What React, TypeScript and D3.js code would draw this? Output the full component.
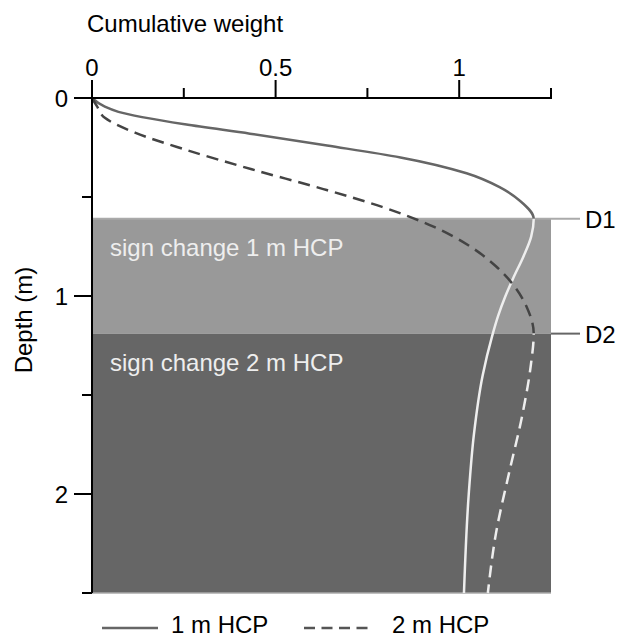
import React from 'react';
import * as d3 from 'd3';

// depth (m) and cumulative weight
const depth1m = [0, 0.044, 0.07, 0.133, 0.18, 0.24, 0.3, 0.38, 0.45, 0.52, 0.61, 0.7, 0.8, 0.91, 1.0, 1.1, 1.2, 1.4, 1.7, 2.0, 2.5];
const weight1m = [0, 0.035, 0.072, 0.253, 0.43, 0.64, 0.84, 1.02, 1.11, 1.166, 1.203, 1.196, 1.175, 1.147, 1.126, 1.106, 1.09, 1.064, 1.04, 1.026, 1.013];

const depth2m = [0, 0.04, 0.1, 0.175, 0.26, 0.36, 0.46, 0.55, 0.65, 0.75, 0.85, 0.95, 1.06, 1.19, 1.35, 1.6, 1.9, 2.2, 2.5];
const weight2m = [0, 0.013, 0.035, 0.117, 0.253, 0.435, 0.63, 0.79, 0.93, 1.03, 1.1, 1.15, 1.185, 1.203, 1.195, 1.172, 1.135, 1.1, 1.078];

const signChange = [0.61, 1.19];
const signLabels = ['D1', 'D2'];
const zoneLabels = ['sign change 1 m HCP', 'sign change 2 m HCP'];
const seriesLabels = ['1 m HCP', '2 m HCP'];

const xMajorTicks = [0, 0.5, 1];
const xMinorTicks = [0.25, 0.75, 1.25];
const yMajorTicks = [0, 1, 2];
const yMinorTicks = [0.5, 1.5, 2.5];

const W = 620;
const H = 637;
const font = '"Liberation Sans", Arial, sans-serif';

export default function App() {
  const x = d3.scaleLinear().domain([0, 1.25]).range([92, 551]);
  const y = d3.scaleLinear().domain([0, 2.5]).range([98, 593]);

  const curve = (ds: number[], ws: number[]) =>
    d3.line<[number, number]>()
      .x(d => x(d[1]))
      .y(d => y(d[0]))
      .curve(d3.curveMonotoneY)(ds.map((d, i) => [d, ws[i]]))!;

  const path1 = curve(depth1m, weight1m);
  const path2 = curve(depth2m, weight2m);

  const yD1 = y(signChange[0]);
  const yD2 = y(signChange[1]);
  const x0 = x(0);
  const x1 = x(1.25);
  const yEnd = y(2.5);

  return (
    <svg width={W} height={H} style={{ position: 'absolute', left: 0, top: 0, background: '#fff' }}
      fontFamily={font}>
      <defs>
        <clipPath id="above1"><rect x={0} y={0} width={W} height={yD1} /></clipPath>
        <clipPath id="below1"><rect x={0} y={yD1} width={W} height={H - yD1} /></clipPath>
        <clipPath id="above2"><rect x={0} y={0} width={W} height={yD2} /></clipPath>
        <clipPath id="below2"><rect x={0} y={yD2} width={W} height={H - yD2} /></clipPath>
      </defs>

      {/* sign change zones */}
      <rect x={x0} y={yD1} width={x1 - x0} height={yD2 - yD1} fill="#999" />
      <rect x={x0} y={yD2} width={x1 - x0} height={yEnd - yD2} fill="#666" />
      <line x1={x0} x2={580} y1={yD1} y2={yD1} stroke="#aaa" strokeWidth={2} />
      <line x1={x1} x2={580} y1={yD2} y2={yD2} stroke="#666" strokeWidth={2} />
      <line x1={x0} x2={x1} y1={yEnd} y2={yEnd} stroke="#aaa" strokeWidth={1.5} />
      {signLabels.map((s, i) => (
        <text key={s} x={585} y={y(signChange[i]) + 9} fontSize={24} fill="#000">{s}</text>
      ))}
      {zoneLabels.map((s, i) => (
        <text key={s} x={110} y={y(signChange[i]) + 37} fontSize={24} fill="#eee">{s}</text>
      ))}

      {/* curves */}
      <path d={path1} fill="none" stroke="#666" strokeWidth={2.5} clipPath="url(#above1)" />
      <path d={path1} fill="none" stroke="#eee" strokeWidth={2.5} clipPath="url(#below1)" />
      <path d={path2} fill="none" stroke="#444" strokeWidth={2.5} strokeDasharray="12 7" clipPath="url(#above2)" />
      <path d={path2} fill="none" stroke="#eee" strokeWidth={2.5} strokeDasharray="12 7" clipPath="url(#below2)" />

      {/* top axis */}
      <text x={87} y={32} fontSize={24}>Cumulative weight</text>
      <line x1={x0 - 18} x2={x1 + 1} y1={y(0)} y2={y(0)} stroke="#000" strokeWidth={2} />
      {xMajorTicks.map(t => (
        <g key={t}>
          <line x1={x(t)} x2={x(t)} y1={y(0)} y2={y(0) - 18} stroke="#000" strokeWidth={2} />
          <text x={x(t)} y={76} fontSize={24} textAnchor="middle">{t}</text>
        </g>
      ))}
      {xMinorTicks.map(t => (
        <line key={t} x1={x(t)} x2={x(t)} y1={y(0)} y2={y(0) - 10} stroke="#000" strokeWidth={2} />
      ))}

      {/* left axis */}
      <line x1={x0} x2={x0} y1={y(0) - 18} y2={yEnd} stroke="#000" strokeWidth={2} />
      {yMajorTicks.map(t => (
        <g key={t}>
          <line x1={x0} x2={x0 - 18} y1={y(t)} y2={y(t)} stroke="#000" strokeWidth={2} />
          <text x={x0 - 24} y={y(t) + 9} fontSize={24} textAnchor="end">{t}</text>
        </g>
      ))}
      {yMinorTicks.map(t => (
        <line key={t} x1={x0} x2={x0 - 10} y1={y(t)} y2={y(t)} stroke="#000" strokeWidth={2} />
      ))}
      <text transform={`translate(32,320) rotate(-90)`} fontSize={24} textAnchor="middle">Depth (m)</text>

      {/* legend */}
      <line x1={102} x2={158} y1={628} y2={628} stroke="#666" strokeWidth={2.5} />
      <text x={171} y={633} fontSize={24}>{seriesLabels[0]}</text>
      <line x1={304} x2={368} y1={628} y2={628} stroke="#555" strokeWidth={2.5} strokeDasharray="11 6.5" />
      <text x={392} y={633} fontSize={24}>{seriesLabels[1]}</text>
    </svg>
  );
}
